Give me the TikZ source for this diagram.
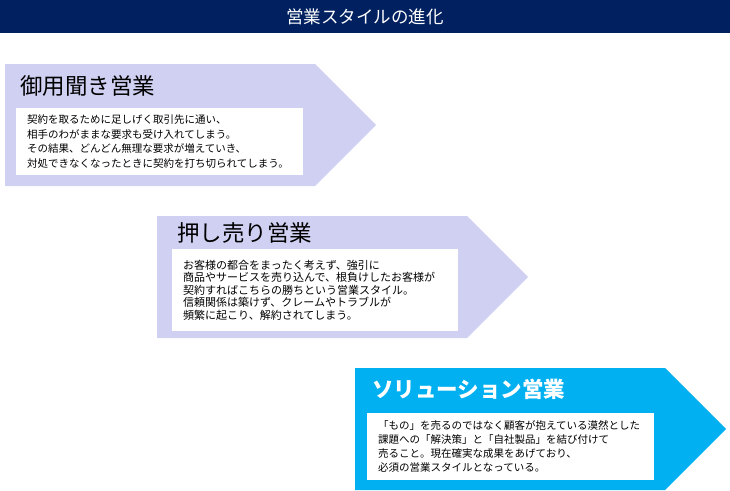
\documentclass[tikz,border=0pt]{standalone}
\usepackage{fontspec}
\setmainfont{Noto Sans CJK JP}
\usepackage{tikz}
\usetikzlibrary{positioning}
\definecolor{titlenavy}{RGB}{0,32,96}
\definecolor{stagelav}{RGB}{208,208,242}
\definecolor{stagecyan}{RGB}{0,176,240}
\tikzset{
  stagearrow/.pic={
      \fill[#1]
      (0,0) -- ++(310,0) -- ++(61,61) -- ++(-61,61) -- ++(-310,0) -- cycle;
    },
  stagehead/.style={
      anchor=west,
      inner sep=0pt,
      font=\fontsize{22.5}{23}\selectfont
    },
  stagebody/.style={
      fill=white,
      anchor=north west,
      align=left,
      inner xsep=11pt,
      inner ysep=0pt,
      text width=265pt,
      font=\fontsize{10.5}{14.5}\selectfont
    }
}
\begin{document}
\begin{tikzpicture}[x=1pt,y=-1pt]
\useasboundingbox (0,0) rectangle (730,490);
% the title bar
\node[fill=titlenavy,text=white,minimum width=730pt,minimum height=33pt,
  inner sep=0pt,font=\fontsize{17.5}{18}\selectfont]
  at (365,16.5) (title) {営業スタイルの進化};

% the arrows
\path
  (5,64) pic {stagearrow=stagelav}
  (157,216) pic {stagearrow=stagelav}
  (355,368) pic {stagearrow=stagecyan};

% stage 1
\node[stagehead] at (20,86) (head-1) {御用聞き営業};
\node[stagebody,minimum height=67pt] at (16,108) (body-1)
  {契約を取るために足しげく取引先に通い、\\
   相手のわがままな要求も受け入れてしまう。\\
   その結果、どんどん無理な要求が増えていき、\\
   対処できなくなったときに契約を打ち切られてしまう。};

% stage 2
\node[stagehead] at (177,233) (head-2) {押し売り営業};
\node[stagebody,minimum height=82pt,text width=264pt,
  font=\fontsize{11}{12.6}\selectfont] at (172,249) (body-2)
  {お客様の都合をまったく考えず、強引に\\
   商品やサービスを売り込んで、根負けしたお客様が\\
   契約すればこちらの勝ちという営業スタイル。\\
   信頼関係は築けず、クレームやトラブルが\\
   頻繁に起こり、解約されてしまう。};

% stage 3
\node[stagehead,text=white,font=\bfseries\fontsize{21.5}{22}\selectfont]
  at (372,389) (head-3) {ソリューション営業};
\node[stagebody,minimum height=67pt,font=\fontsize{10.5}{14}\selectfont]
  at (367,413) (body-3)
  {「もの」を売るのではなく顧客が抱えている漠然とした\\
   課題への「解決策」と「自社製品」を結び付けて\\
   売ること。現在確実な成果をあげており、\\
   必須の営業スタイルとなっている。};
\end{tikzpicture}
\end{document}
